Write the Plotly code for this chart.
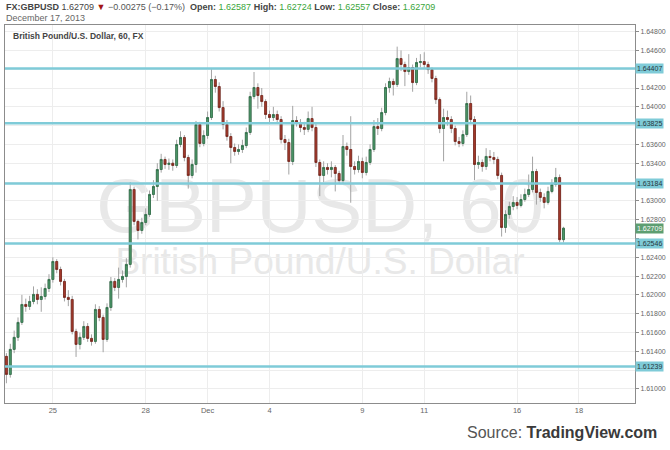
import plotly.graph_objects as go

# ---------------- data ----------------
symbol = "FX:GBPUSD"
chart_date = "December 17, 2013"
subtitle = "British Pound/U.S. Dollar, 60, FX"

# 3-hour bars, positions measured in trading days (Nov 25 = 0, weekends collapsed)
start_day = -1.5
bar_days = 0.125
first_open = 1.61346

close = [
    1.61154, 1.61420, 1.61548, 1.61707, 1.61898, 1.61877, 1.61930, 1.62005, 1.61951, 1.61983,
    1.62068, 1.62164, 1.62355, 1.62270, 1.62143, 1.61973, 1.61951, 1.61611, 1.61473, 1.61548,
    1.61664, 1.61537, 1.61505, 1.61845, 1.61760, 1.61526, 1.61866, 1.62143, 1.62079, 1.62164,
    1.62196, 1.62324, 1.63121, 1.62781, 1.62685, 1.62770, 1.62855, 1.63068, 1.63153, 1.63333,
    1.63440, 1.63387, 1.63400, 1.63376, 1.63599, 1.63674, 1.63461, 1.63270, 1.63387, 1.63812,
    1.63610, 1.63695, 1.63886, 1.64290, 1.64216, 1.63992, 1.63812, 1.63684, 1.63567, 1.63525,
    1.63546, 1.63588, 1.63727, 1.64109, 1.64205, 1.64120, 1.64056, 1.63918, 1.63886, 1.63918,
    1.63865, 1.63652, 1.63620, 1.63418, 1.63854, 1.63833, 1.63780, 1.63760, 1.63875, 1.63780,
    1.63408, 1.63270, 1.63355, 1.63333, 1.63355, 1.63291, 1.63216, 1.63578, 1.63546, 1.63365,
    1.63333, 1.63418, 1.63301, 1.63408, 1.63546, 1.63790, 1.63769, 1.63939, 1.64205, 1.64269,
    1.64237, 1.64513, 1.64450, 1.64375, 1.64418, 1.64258, 1.64471, 1.64481, 1.64450, 1.64396,
    1.64301, 1.64077, 1.63769, 1.63886, 1.63865, 1.63769, 1.63631, 1.63610, 1.63705, 1.64035,
    1.63865, 1.63387, 1.63408, 1.63365, 1.63472, 1.63461, 1.63440, 1.63270, 1.62717, 1.62855,
    1.62940, 1.62983, 1.62951, 1.63014, 1.63068, 1.63121, 1.63312, 1.63089, 1.63036, 1.62983,
    1.63100, 1.63174, 1.63248, 1.62587, 1.62709,
]
high = [
    1.61380, 1.61480, 1.61620, 1.61760, 1.62000, 1.61960, 1.61990, 1.62090, 1.62060, 1.62080,
    1.62120, 1.62220, 1.62400, 1.62380, 1.62300, 1.62170, 1.62050, 1.61990, 1.61640, 1.61600,
    1.61720, 1.61700, 1.61580, 1.61900, 1.61880, 1.61790, 1.61910, 1.62190, 1.62180, 1.62290,
    1.62260, 1.62390, 1.63200, 1.63150, 1.62800, 1.62820, 1.62920, 1.63110, 1.63220, 1.63400,
    1.63500, 1.63470, 1.63450, 1.63440, 1.63650, 1.63740, 1.63700, 1.63490, 1.63440, 1.63850,
    1.63840, 1.63750, 1.63950, 1.64400, 1.64330, 1.64260, 1.64060, 1.63860, 1.63720, 1.63610,
    1.63600, 1.63650, 1.63780, 1.64160, 1.64370, 1.64250, 1.64200, 1.64080, 1.63960, 1.64000,
    1.63960, 1.63900, 1.63700, 1.63660, 1.64010, 1.63900, 1.63870, 1.63840, 1.63950, 1.64000,
    1.63820, 1.63440, 1.63420, 1.63400, 1.63420, 1.63380, 1.63320, 1.63700, 1.63620, 1.63900,
    1.63420, 1.63480, 1.63460, 1.63470, 1.63600, 1.63860, 1.63880, 1.63990, 1.64250, 1.64310,
    1.64300, 1.64640, 1.64600, 1.64480, 1.64560, 1.64450, 1.64520, 1.64560, 1.64580, 1.64480,
    1.64420, 1.64330, 1.64100, 1.63980, 1.63960, 1.63900, 1.63800, 1.63680, 1.63750, 1.64160,
    1.64120, 1.63900, 1.63480, 1.63440, 1.63560, 1.63540, 1.63520, 1.63470, 1.63300, 1.62900,
    1.62990, 1.63050, 1.63040, 1.63070, 1.63130, 1.63280, 1.63470, 1.63340, 1.63130, 1.63080,
    1.63150, 1.63230, 1.63350, 1.63280, 1.62724,
]
low = [
    1.61060, 1.61120, 1.61380, 1.61510, 1.61680, 1.61820, 1.61840, 1.61900, 1.61900, 1.61820,
    1.61950, 1.62030, 1.62130, 1.62230, 1.62100, 1.61930, 1.61880, 1.61580, 1.61340, 1.61420,
    1.61520, 1.61500, 1.61460, 1.61480, 1.61720, 1.61390, 1.61500, 1.61830, 1.62040, 1.61960,
    1.62130, 1.62080, 1.62290, 1.62740, 1.62590, 1.62650, 1.62740, 1.62830, 1.63030, 1.63000,
    1.63300, 1.63340, 1.63330, 1.63320, 1.63350, 1.63570, 1.63420, 1.63130, 1.63240, 1.63300,
    1.63570, 1.63580, 1.63660, 1.63860, 1.64150, 1.63950, 1.63760, 1.63640, 1.63400, 1.63480,
    1.63490, 1.63510, 1.63560, 1.63700, 1.64080, 1.63980, 1.64000, 1.63870, 1.63830, 1.63850,
    1.63820, 1.63610, 1.63540, 1.63280, 1.63380, 1.63790, 1.63730, 1.63700, 1.63730, 1.63740,
    1.63360, 1.63050, 1.63200, 1.63280, 1.63250, 1.63100, 1.63180, 1.63190, 1.63480, 1.62980,
    1.63280, 1.63300, 1.63240, 1.63270, 1.63380, 1.63520, 1.63700, 1.63740, 1.63910, 1.64150,
    1.64120, 1.64210, 1.64380, 1.64220, 1.64340, 1.64160, 1.64230, 1.64420, 1.64400, 1.64350,
    1.64260, 1.64030, 1.63720, 1.63420, 1.63800, 1.63720, 1.63590, 1.63570, 1.63580, 1.63680,
    1.63820, 1.63220, 1.63340, 1.63310, 1.63330, 1.63420, 1.63390, 1.63230, 1.62620, 1.62660,
    1.62810, 1.62900, 1.62910, 1.62930, 1.62990, 1.63040, 1.63090, 1.62960, 1.62990, 1.62920,
    1.62960, 1.63080, 1.63150, 1.62560, 1.62557,
]

levels = [1.64407, 1.63825, 1.63184, 1.62546, 1.61239]
last_price = 1.62709

x_tick_days = [0, 3, 5, 7, 10, 12, 15, 17]
x_tick_labels = ["25", "28", "Dec", "4", "9", "11", "16", "18"]
y_ticks = [1.610, 1.612, 1.614, 1.616, 1.618, 1.620, 1.622, 1.624, 1.626, 1.628,
           1.630, 1.632, 1.634, 1.636, 1.638, 1.640, 1.642, 1.644, 1.646, 1.648]
# tick labels hidden behind the level price boxes are left blank
y_tick_labels = ["1.61000", "", "1.61400", "1.61600", "1.61800", "1.62000", "1.62200",
                 "1.62400", "", "1.62800", "1.63000", "", "1.63400", "1.63600", "",
                 "1.64000", "1.64200", "", "1.64600", "1.64800"]

# ---------------- derived ----------------
opn = [first_open] + close[:-1]
pos = [start_day + bar_days * i for i in range(len(close))]
body_hi = [max(o, c) for o, c in zip(opn, close)]
body_lo = [min(o, c) for o, c in zip(opn, close)]

FONT = "Liberation Sans, Arial, sans-serif"
WICK = "#a3a3a3"
UP_FILL, UP_LINE = "#4f9a6b", "#2f6f48"
DN_FILL, DN_LINE = "#a63b2d", "#7a261c"
LEVEL = "#7fcbd8"

fig = go.Figure()

# wicks (grey)
fig.add_trace(go.Candlestick(
    x=pos, open=opn, high=high, low=low, close=close,
    increasing=dict(line=dict(color=WICK, width=1), fillcolor=WICK),
    decreasing=dict(line=dict(color=WICK, width=1), fillcolor=WICK),
    whiskerwidth=0, hoverinfo="skip", showlegend=False,
))
# bodies (coloured)
fig.add_trace(go.Candlestick(
    x=pos, open=opn, high=body_hi, low=body_lo, close=close,
    increasing=dict(line=dict(color=UP_LINE, width=0.8), fillcolor=UP_FILL),
    decreasing=dict(line=dict(color=DN_LINE, width=0.8), fillcolor=DN_FILL),
    whiskerwidth=0, hoverinfo="skip", showlegend=False,
))

shapes = []
for lv in levels:
    shapes.append(dict(type="line", xref="paper", x0=0, x1=1, yref="y", y0=lv, y1=lv,
                       line=dict(color=LEVEL, width=2.5), layer="above"))
# watermark
shapes.append(dict(type="rect", xref="paper", yref="paper", x0=0, x1=1, y0=0.44, y1=0.64,
                   line=dict(width=0), fillcolor="rgba(0,0,0,0)", layer="between",
                   label=dict(text="GBPUSD, 60", textposition="middle center",
                              font=dict(family=FONT, size=76, color="#e8e8e8"))))
shapes.append(dict(type="rect", xref="paper", yref="paper", x0=0, x1=1, y0=0.334, y1=0.434,
                   line=dict(width=0), fillcolor="rgba(0,0,0,0)", layer="between",
                   label=dict(text="British Pound/U.S. Dollar", textposition="middle center",
                              font=dict(family=FONT, size=37, color="#e8e8e8"))))

ann = []
for lv in levels:
    ann.append(dict(xref="paper", x=1, xanchor="left", xshift=0, yref="y", y=lv,
                    text=f"{lv:.5f}", showarrow=False, bgcolor=LEVEL, borderpad=1,
                    font=dict(family=FONT, size=7, color="#26373c")))
ann.append(dict(xref="paper", x=1, xanchor="left", yref="y", y=last_price,
                text=f"{last_price:.5f}", showarrow=False, bgcolor="#5d9e71", borderpad=1,
                font=dict(family=FONT, size=7, color="white")))

G = "#3aa63a"
header = (f"<b>{symbol}</b> 1.62709 <span style='color:#a31515'>▼</span>"
          f"<span style='color:#555'> −0.00275 (−0.17%)</span>&nbsp;&nbsp;"
          f"<b>Open:</b> <span style='color:{G}'>1.62587</span> "
          f"<b>High:</b> <span style='color:{G}'>1.62724</span> "
          f"<b>Low:</b> <span style='color:{G}'>1.62557</span> "
          f"<b>Close:</b> <span style='color:{G}'>1.62709</span>")
ann.append(dict(xref="paper", yref="paper", x=-0.002, y=1.048, xanchor="left", yanchor="middle",
                text=header, showarrow=False, font=dict(family=FONT, size=9, color="#444")))
ann.append(dict(xref="paper", yref="paper", x=-0.002, y=1.019, xanchor="left", yanchor="middle",
                text=chart_date, showarrow=False, font=dict(family=FONT, size=9, color="#666")))
ann.append(dict(xref="paper", yref="paper", x=0.0095, y=0.971, xanchor="left", yanchor="middle",
                text=f"<b>{subtitle}</b>", showarrow=False, font=dict(family=FONT, size=8.5, color="#444")))
ann.append(dict(xref="paper", yref="paper", x=1.038, y=-0.077, xanchor="right", yanchor="middle",
                text="<span style='color:#555'>Source: </span><b>TradingView.com</b>",
                showarrow=False, font=dict(family=FONT, size=16, color="#3a3a3a")))

fig.update_layout(
    width=670, height=450,
    margin=dict(l=4, r=34, t=25, b=47),
    paper_bgcolor="white", plot_bgcolor="white",
    showlegend=False,
    shapes=shapes, annotations=ann,
    font=dict(family=FONT),
    xaxis=dict(range=[-1.546, 18.81], tickvals=x_tick_days, ticktext=x_tick_labels,
               showgrid=True, gridcolor="#ededed", gridwidth=1, zeroline=False,
               showline=True, linecolor="#8c8c8c", linewidth=1, mirror=True,
               ticks="", tickfont=dict(size=7.5, color="#666"),
               rangeslider=dict(visible=False), fixedrange=True),
    yaxis=dict(side="right", range=[1.6085, 1.6487], tickvals=y_ticks, ticktext=y_tick_labels,
               showgrid=True, gridcolor="#ededed", gridwidth=1, zeroline=False,
               showline=True, linecolor="#8c8c8c", linewidth=1, mirror=True,
               ticks="outside", ticklen=3, tickcolor="#8c8c8c",
               tickfont=dict(size=7, color="#666"), fixedrange=True),
)

fig.write_html("out.html", config={"displayModeBar": False, "staticPlot": True},
               post_script="document.body.style.margin='0px';document.body.style.overflow='hidden';")
